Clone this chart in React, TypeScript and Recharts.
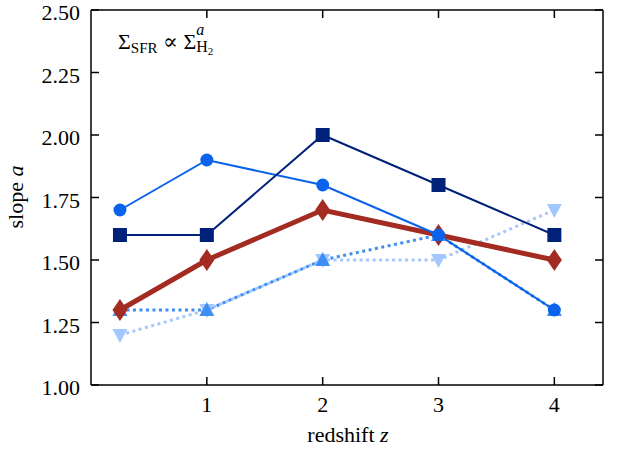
import React from 'react';
import { LineChart, Line, XAxis, YAxis } from 'recharts';

// redshift bins and slope values per simulation
const redshift = [0.25, 1, 2, 3, 4];
const slopeCircle = [1.7, 1.9, 1.8, 1.6, 1.3];
const slopeSquare = [1.6, 1.6, 2.0, 1.8, 1.6];
const slopeDiamond = [1.3, 1.5, 1.7, 1.6, 1.5];
const slopeTriUp = [1.3, 1.3, 1.5, 1.6, 1.3];
const slopeTriDown = [1.2, 1.3, 1.5, 1.5, 1.7];

const xTicks = [1, 2, 3, 4];
const yTicks = [1.0, 1.25, 1.5, 1.75, 2.0, 2.25, 2.5];

const data = redshift.map((z, i) => ({
  z,
  circle: slopeCircle[i],
  square: slopeSquare[i],
  diamond: slopeDiamond[i],
  triUp: slopeTriUp[i],
  triDown: slopeTriDown[i],
}));

const FONT = "'Liberation Serif', 'Times New Roman', Times, 'DejaVu Serif', serif";
const FS = 22;
const TICK_LEN = 8;
const txt = { fontFamily: FONT };

const BottomTick = (props: any) => {
  const { x, y, payload } = props;
  return (
    <g>
      <line x1={x} y1={y} x2={x} y2={y - TICK_LEN} stroke="#000" strokeWidth={1.5} />
      <text x={x} y={y + 27} textAnchor="middle" style={txt} fontSize={FS} fill="#000">
        {payload.value}
      </text>
    </g>
  );
};

const TopTick = (props: any) => {
  const { x, y } = props;
  return <line x1={x} y1={y} x2={x} y2={y + TICK_LEN} stroke="#000" strokeWidth={1.5} />;
};

const LeftTick = (props: any) => {
  const { x, y, payload } = props;
  return (
    <g>
      <line x1={x} y1={y} x2={x + TICK_LEN} y2={y} stroke="#000" strokeWidth={1.5} />
      <text x={x - 11} y={y + 10} textAnchor="end" style={txt} fontSize={FS} fill="#000">
        {Number(payload.value).toFixed(2)}
      </text>
    </g>
  );
};

const RightTick = (props: any) => {
  const { x, y } = props;
  return <line x1={x} y1={y} x2={x - TICK_LEN} y2={y} stroke="#000" strokeWidth={1.5} />;
};

const circleDot = (color: string) => (p: any) => (
  <circle key={p.index} cx={p.cx} cy={p.cy} r={6.5} fill={color} />
);
const squareDot = (color: string) => (p: any) => (
  <rect key={p.index} x={p.cx - 7} y={p.cy - 7} width={14} height={14} fill={color} />
);
const diamondDot = (color: string) => (p: any) => (
  <polygon
    key={p.index}
    points={`${p.cx},${p.cy - 11} ${p.cx + 7.5},${p.cy} ${p.cx},${p.cy + 11} ${p.cx - 7.5},${p.cy}`}
    fill={color}
  />
);
const triUpDot = (color: string) => (p: any) => (
  <polygon
    key={p.index}
    points={`${p.cx},${p.cy - 8} ${p.cx + 7.5},${p.cy + 6} ${p.cx - 7.5},${p.cy + 6}`}
    fill={color}
  />
);
const triDownDot = (color: string) => (p: any) => (
  <polygon
    key={p.index}
    points={`${p.cx},${p.cy + 8} ${p.cx + 7.5},${p.cy - 6} ${p.cx - 7.5},${p.cy - 6}`}
    fill={color}
  />
);

const App: React.FC = () => {
  return (
    <div style={{ position: 'absolute', left: 0, top: 0, width: 619, height: 454, background: '#fff' }}>
      <LineChart width={619} height={454} data={data} margin={{ top: 9, right: 15, bottom: 19, left: 31 }}>
        <XAxis
          xAxisId="b"
          dataKey="z"
          type="number"
          domain={[0, 4.42]}
          ticks={xTicks}
          allowDataOverflow
          height={50}
          tickSize={0}
          tickMargin={0}
          tick={BottomTick}
          axisLine={{ stroke: '#000', strokeWidth: 1.5 }}
          tickLine={false}
        />
        <XAxis
          xAxisId="t"
          orientation="top"
          dataKey="z"
          type="number"
          domain={[0, 4.42]}
          ticks={xTicks}
          allowDataOverflow
          height={1}
          tickSize={0}
          tickMargin={0}
          tick={TopTick}
          axisLine={{ stroke: '#000', strokeWidth: 1.5 }}
          tickLine={false}
        />
        <YAxis
          yAxisId="l"
          type="number"
          domain={[1, 2.5]}
          ticks={yTicks}
          allowDataOverflow
          width={60}
          tickSize={0}
          tickMargin={0}
          tick={LeftTick}
          axisLine={{ stroke: '#000', strokeWidth: 1.5 }}
          tickLine={false}
        />
        <YAxis
          yAxisId="r"
          orientation="right"
          type="number"
          domain={[1, 2.5]}
          ticks={yTicks}
          allowDataOverflow
          width={1}
          tickSize={0}
          tickMargin={0}
          tick={RightTick}
          axisLine={{ stroke: '#000', strokeWidth: 1.5 }}
          tickLine={false}
        />
        <Line
          xAxisId="b"
          yAxisId="l"
          dataKey="triDown"
          stroke="#a3c8ff"
          strokeWidth={3}
          strokeDasharray="3 3.5"
          dot={triDownDot('#a3c8ff')}
          activeDot={false}
          isAnimationActive={false}
        />
        <Line
          xAxisId="b"
          yAxisId="l"
          dataKey="triUp"
          stroke="#3f8ef2"
          strokeWidth={3}
          strokeDasharray="3 3.5"
          dot={triUpDot('#3f8ef2')}
          activeDot={false}
          isAnimationActive={false}
        />
        <Line
          xAxisId="b"
          yAxisId="l"
          dataKey="diamond"
          stroke="#a32b22"
          strokeWidth={5}
          dot={diamondDot('#a32b22')}
          activeDot={false}
          isAnimationActive={false}
        />
        <Line
          xAxisId="b"
          yAxisId="l"
          dataKey="circle"
          stroke="#0a63ea"
          strokeWidth={2}
          dot={circleDot('#0a63ea')}
          activeDot={false}
          isAnimationActive={false}
        />
        <Line
          xAxisId="b"
          yAxisId="l"
          dataKey="square"
          stroke="#00217a"
          strokeWidth={2}
          dot={squareDot('#00217a')}
          activeDot={false}
          isAnimationActive={false}
        />
      </LineChart>
      <svg
        width={619}
        height={454}
        style={{ position: 'absolute', left: 0, top: 0, pointerEvents: 'none' }}
      >
        <text x={118} y={49} style={txt} fontSize={FS} fill="#000">
          Σ<tspan dy={4} fontSize={15}>SFR</tspan>
          <tspan dy={-4}> ∝ Σ</tspan>
          <tspan dy={-14} fontSize={16} fontStyle="italic">a</tspan>
          <tspan dx={-8} dy={17} fontSize={16}>H</tspan>
          <tspan dy={3} fontSize={11}>2</tspan>
        </text>
        <text
          x={15}
          y={197}
          transform="rotate(-90 15 197)"
          textAnchor="middle"
          dominantBaseline="central"
          style={txt}
          fontSize={FS}
          fill="#000"
        >
          slope <tspan fontStyle="italic">a</tspan>
        </text>
        <text x={348} y={442} textAnchor="middle" style={txt} fontSize={FS} fill="#000">
          redshift <tspan fontStyle="italic">z</tspan>
        </text>
      </svg>
    </div>
  );
};

export default App;
